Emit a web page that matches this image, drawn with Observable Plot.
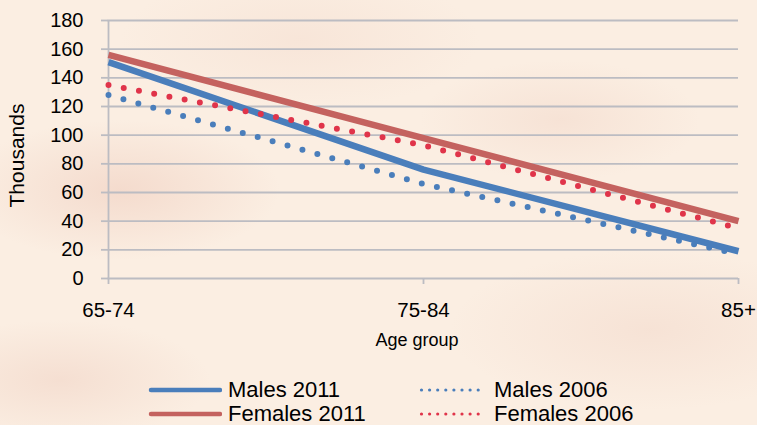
<!DOCTYPE html>
<html><head><meta charset="utf-8">
<script src="https://cdn.jsdelivr.net/npm/d3@7"></script>
<script src="https://cdn.jsdelivr.net/npm/@observablehq/plot@0.6"></script>
<style>
html,body{margin:0;padding:0;}
body{width:757px;height:425px;overflow:hidden;position:relative;font-family:"Liberation Sans",Arial,sans-serif;
background:
 radial-gradient(ellipse 160px 70px at 120px 190px, rgba(236,196,180,0.45), rgba(236,196,180,0) 100%),
 radial-gradient(ellipse 140px 60px at 560px 120px, rgba(238,205,190,0.35), rgba(238,205,190,0) 100%),
 radial-gradient(ellipse 200px 80px at 650px 330px, rgba(238,205,190,0.35), rgba(238,205,190,0) 100%),
 radial-gradient(ellipse 150px 60px at 60px 380px, rgba(236,200,185,0.4), rgba(236,200,185,0) 100%),
 radial-gradient(ellipse 180px 70px at 300px 40px, rgba(240,210,195,0.3), rgba(240,210,195,0) 100%),
 #fbeee2;}
#chart svg{background:transparent;color:#000;}
.leg{position:absolute;display:flex;align-items:center;font-size:22px;color:#000;white-space:nowrap;}
.leg svg{margin-right:6px;}
</style></head>
<body>
<div id="chart"></div>
<div id="legend"></div>
<script>
const ageGroups = ["65-74", "75-84", "85+"];
const males2011 = [151, 76, 19];
const females2011 = [156, 98, 40];
const males2006 = [128, 66, 17];
const females2006 = [135, 93, 35];
const yTicks = [0, 20, 40, 60, 80, 100, 120, 140, 160, 180];

const seriesDefs = [
  {name: "Males 2011", values: males2011, color: "#4a7ebb", dotted: false},
  {name: "Females 2011", values: females2011, color: "#c4625f", dotted: false},
  {name: "Males 2006", values: males2006, color: "#4a7ebb", dotted: true},
  {name: "Females 2006", values: females2006, color: "#e0344a", dotted: true}
];
const rows = seriesDefs.flatMap(s => ageGroups.map((g, i) => ({series: s.name, age: g, value: s.values[i]})));

const grid = "#bcbcc2";
const lineMarks = seriesDefs.map(s => Plot.line(rows.filter(r => r.series === s.name), {
  x: "age", y: "value", stroke: s.color,
  strokeWidth: s.dotted ? 6 : 6.5,
  strokeLinecap: s.dotted ? "round" : "butt",
  strokeDasharray: s.dotted ? "0 15.5" : null
}));

const chart = Plot.plot({
  width: 757, height: 370,
  marginLeft: 107, marginRight: 19, marginTop: 20, marginBottom: 92,
  style: {fontFamily: "'Liberation Sans', Arial, sans-serif", fontSize: "20px", background: "transparent"},
  x: {type: "point", domain: ageGroups, padding: 0},
  y: {domain: [0, 180]},
  marks: [
    Plot.gridY(yTicks, {stroke: grid, strokeOpacity: 1, strokeWidth: 1.8}),
    Plot.axisY(yTicks, {tickSize: 6, tickPadding: 18, stroke: grid, strokeWidth: 1.8, fill: "#000", fontSize: 20, label: null}),
    Plot.ruleX([ageGroups[0]], {y1: 0, y2: 180, stroke: grid, strokeWidth: 1.8}),
    Plot.axisX({tickSize: 6, tickPadding: 18, stroke: grid, strokeWidth: 1.8, fill: "#000", fontSize: 20.5, label: null}),
    ...lineMarks,
    Plot.text(["Thousands"], {frameAnchor: "left", dx: -90, dy: 6, rotate: -90, textAnchor: "middle", fontSize: 21, fill: "#000"}),
    Plot.text(["Age group"], {frameAnchor: "bottom", dy: 67, dx: -6, fontSize: 18, fill: "#000"})
  ]
});
document.getElementById("chart").appendChild(chart);

// Legend
const legendPos = [
  {left: 148, top: 390}, {left: 148, top: 414},
  {left: 418, top: 390}, {left: 418, top: 414}
];
const legend = document.getElementById("legend");
seriesDefs.forEach((s, k) => {
  const p = legendPos[k];
  const div = document.createElement("div");
  div.className = "leg";
  div.style.left = p.left + "px";
  div.style.top = (p.top - 13) + "px";
  div.style.height = "26px";
  const sw = s.dotted
    ? `<svg width="72" height="10" style="margin-right:4px"><line x1="3.5" y1="5" x2="68" y2="5" stroke="${s.color}" stroke-width="3.2" stroke-linecap="round" stroke-dasharray="0 8.1"/></svg>`
    : `<svg width="74" height="10"><line x1="3" y1="5" x2="72" y2="5" stroke="${s.color}" stroke-width="4.5" stroke-linecap="round"/></svg>`;
  div.innerHTML = sw + `<span>${s.name}</span>`;
  legend.appendChild(div);
});
</script>
</body></html>
